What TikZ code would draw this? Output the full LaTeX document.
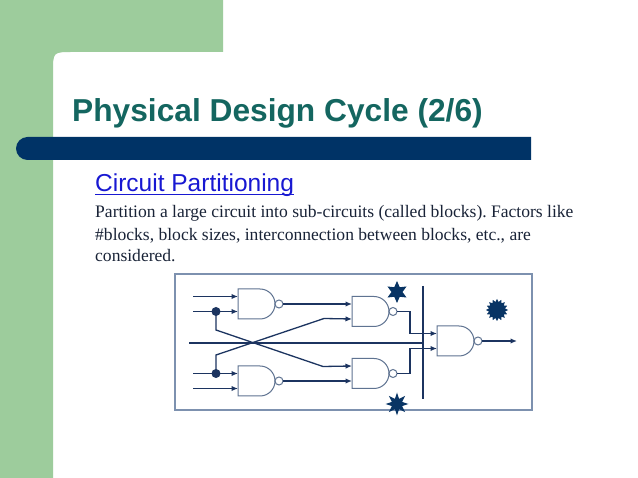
\documentclass[tikz,border=0pt]{standalone}
\usepackage{fontspec}
\setmainfont{Liberation Serif}
\setsansfont{Liberation Sans}
\usetikzlibrary{arrows.meta,shapes.geometric}
\frenchspacing

\definecolor{slidegreen}{RGB}{157,204,156}
\definecolor{titleteal}{RGB}{20,102,96}
\definecolor{barblue}{RGB}{0,51,102}
\definecolor{linkblue}{RGB}{24,24,210}
\definecolor{bodytext}{RGB}{25,35,55}
\definecolor{wirenavy}{RGB}{28,52,96}
\definecolor{gategray}{RGB}{95,115,145}
\definecolor{boxgray}{RGB}{125,145,175}
\definecolor{starnavy}{RGB}{8,52,100}

\tikzset{
  wire/.style={wirenavy, line width=1.3pt},
  arrowwire/.style={wire, -{Latex[length=6.5pt,width=5.5pt]}},
  bus/.style={wirenavy, line width=2.6pt},
  gateline/.style={gategray, line width=1pt},
  dot/.style={circle, fill=wirenavy, inner sep=0pt, minimum size=9pt},
  burst/.style={star, fill=starnavy, inner sep=0pt, minimum size=22pt},
  bodyline/.style={anchor=base west, inner sep=0pt, text=bodytext,
    font=\fontsize{17.55}{22}\selectfont},
  nandgate/.pic={
    \draw[gateline] (22,-15) -- (0,-15) -- (0,15) -- (22,15) arc (90:-90:15);
    \draw[gateline, fill=white] (41,0) circle (4);
    \coordinate (-in1) at (0,-7.5);
    \coordinate (-in2) at (0,7.5);
    \coordinate (-out) at (45,0);
  }
}

\begin{document}
\begin{tikzpicture}[x=1pt,y=-1pt]
    \useasboundingbox (0,0) rectangle (638,478);
    \fill[white] (0,0) rectangle (638,478);

    % slide frame
    \fill[slidegreen] (0,0) -- (223,0) -- (223,52) -- (73,52)
        .. controls (53,52) .. (53,72) -- (53,478) -- (0,478) -- cycle;
    \fill[barblue, rounded corners=11.5pt] (531,137) -- (16,137) -- (16,160) -- (531,160);

    \node[anchor=base west, inner sep=0pt, text=titleteal,
        font=\sffamily\bfseries\fontsize{31.7}{36}\selectfont] (title) at (72,122)
        {Physical Design Cycle (2/6)};
    \node[anchor=base west, inner sep=0pt, text=linkblue,
        font=\sffamily\fontsize{24.5}{28}\selectfont] (sub) at (95,192)
        {Circuit Partitioning};
    \draw[linkblue, line width=1.1pt] ([yshift=-2.5pt]sub.base west) -- ([yshift=-2.5pt]sub.base east);

    \node[bodyline] (body1) at (95,218)
        {Partition a large circuit into sub-circuits (called blocks). Factors like};
    \node[bodyline] (body2) at ([yshift=-22.5pt]body1.base west)
        {\#blocks, block sizes, interconnection between blocks, etc., are};
    \node[bodyline] (body3) at ([yshift=-21.5pt]body2.base west)
        {considered.};

    % circuit
    \draw[boxgray, line width=1.2pt] (175,274) rectangle (532,410);

    \pic (g1) at (238,304) {nandgate};
    \pic (g2) at (352,311.5) {nandgate};
    \pic (g3) at (238,381) {nandgate};
    \pic (g4) at (352,373.5) {nandgate};
    \pic (g5) at (437,341) {nandgate};

    \coordinate (i1) at (193,296.5);
    \coordinate (i2) at (193,311.5);
    \coordinate (i3) at (193,373.5);
    \coordinate (i4) at (193,388.5);
    \coordinate (hbus) at (189,343);
    \coordinate (vtop) at (423,286);
    \coordinate (vbot) at (423,399);
    \coordinate (outend) at (517,341);

    \draw[bus] (hbus) -- (hbus -| vtop);
    \draw[bus] (vtop) -- (vbot);

    \draw[arrowwire] (i1) -- (g1-in1);
    \draw[arrowwire] (i2) -- (g1-in2);
    \draw[arrowwire] (i3) -- (g3-in1);
    \draw[arrowwire] (i4) -- (g3-in2);

    \node[dot] (d1) at (216,311.5) {};
    \node[dot] (d2) at (216,373.5) {};

    \draw[arrowwire] (d1.center) -- (216,330) -- (323,366.5) -- (g4-in1);
    \draw[arrowwire] (d2.center) -- (216,355) -- (324,318.5) -- (g2-in2);
    \draw[arrowwire] (g1-out) -- (g2-in1);
    \draw[arrowwire] (g3-out) -- (g4-in2);
    \draw[arrowwire] (g2-out) -- ++(13,0) |- (g5-in1);
    \draw[arrowwire] (g4-out) -- ++(13,0) |- (g5-in2);
    \draw[arrowwire] (g5-out) -- (outend);

    \node[burst, star points=6, star point ratio=2] (s1) at (397,292) {};
    \node[burst, star points=16, star point ratio=1.35] (s2) at (497,310) {};
    \node[burst, star points=8, star point ratio=2.1, minimum size=23pt] (s3) at (397,404) {};
\end{tikzpicture}
\end{document}
